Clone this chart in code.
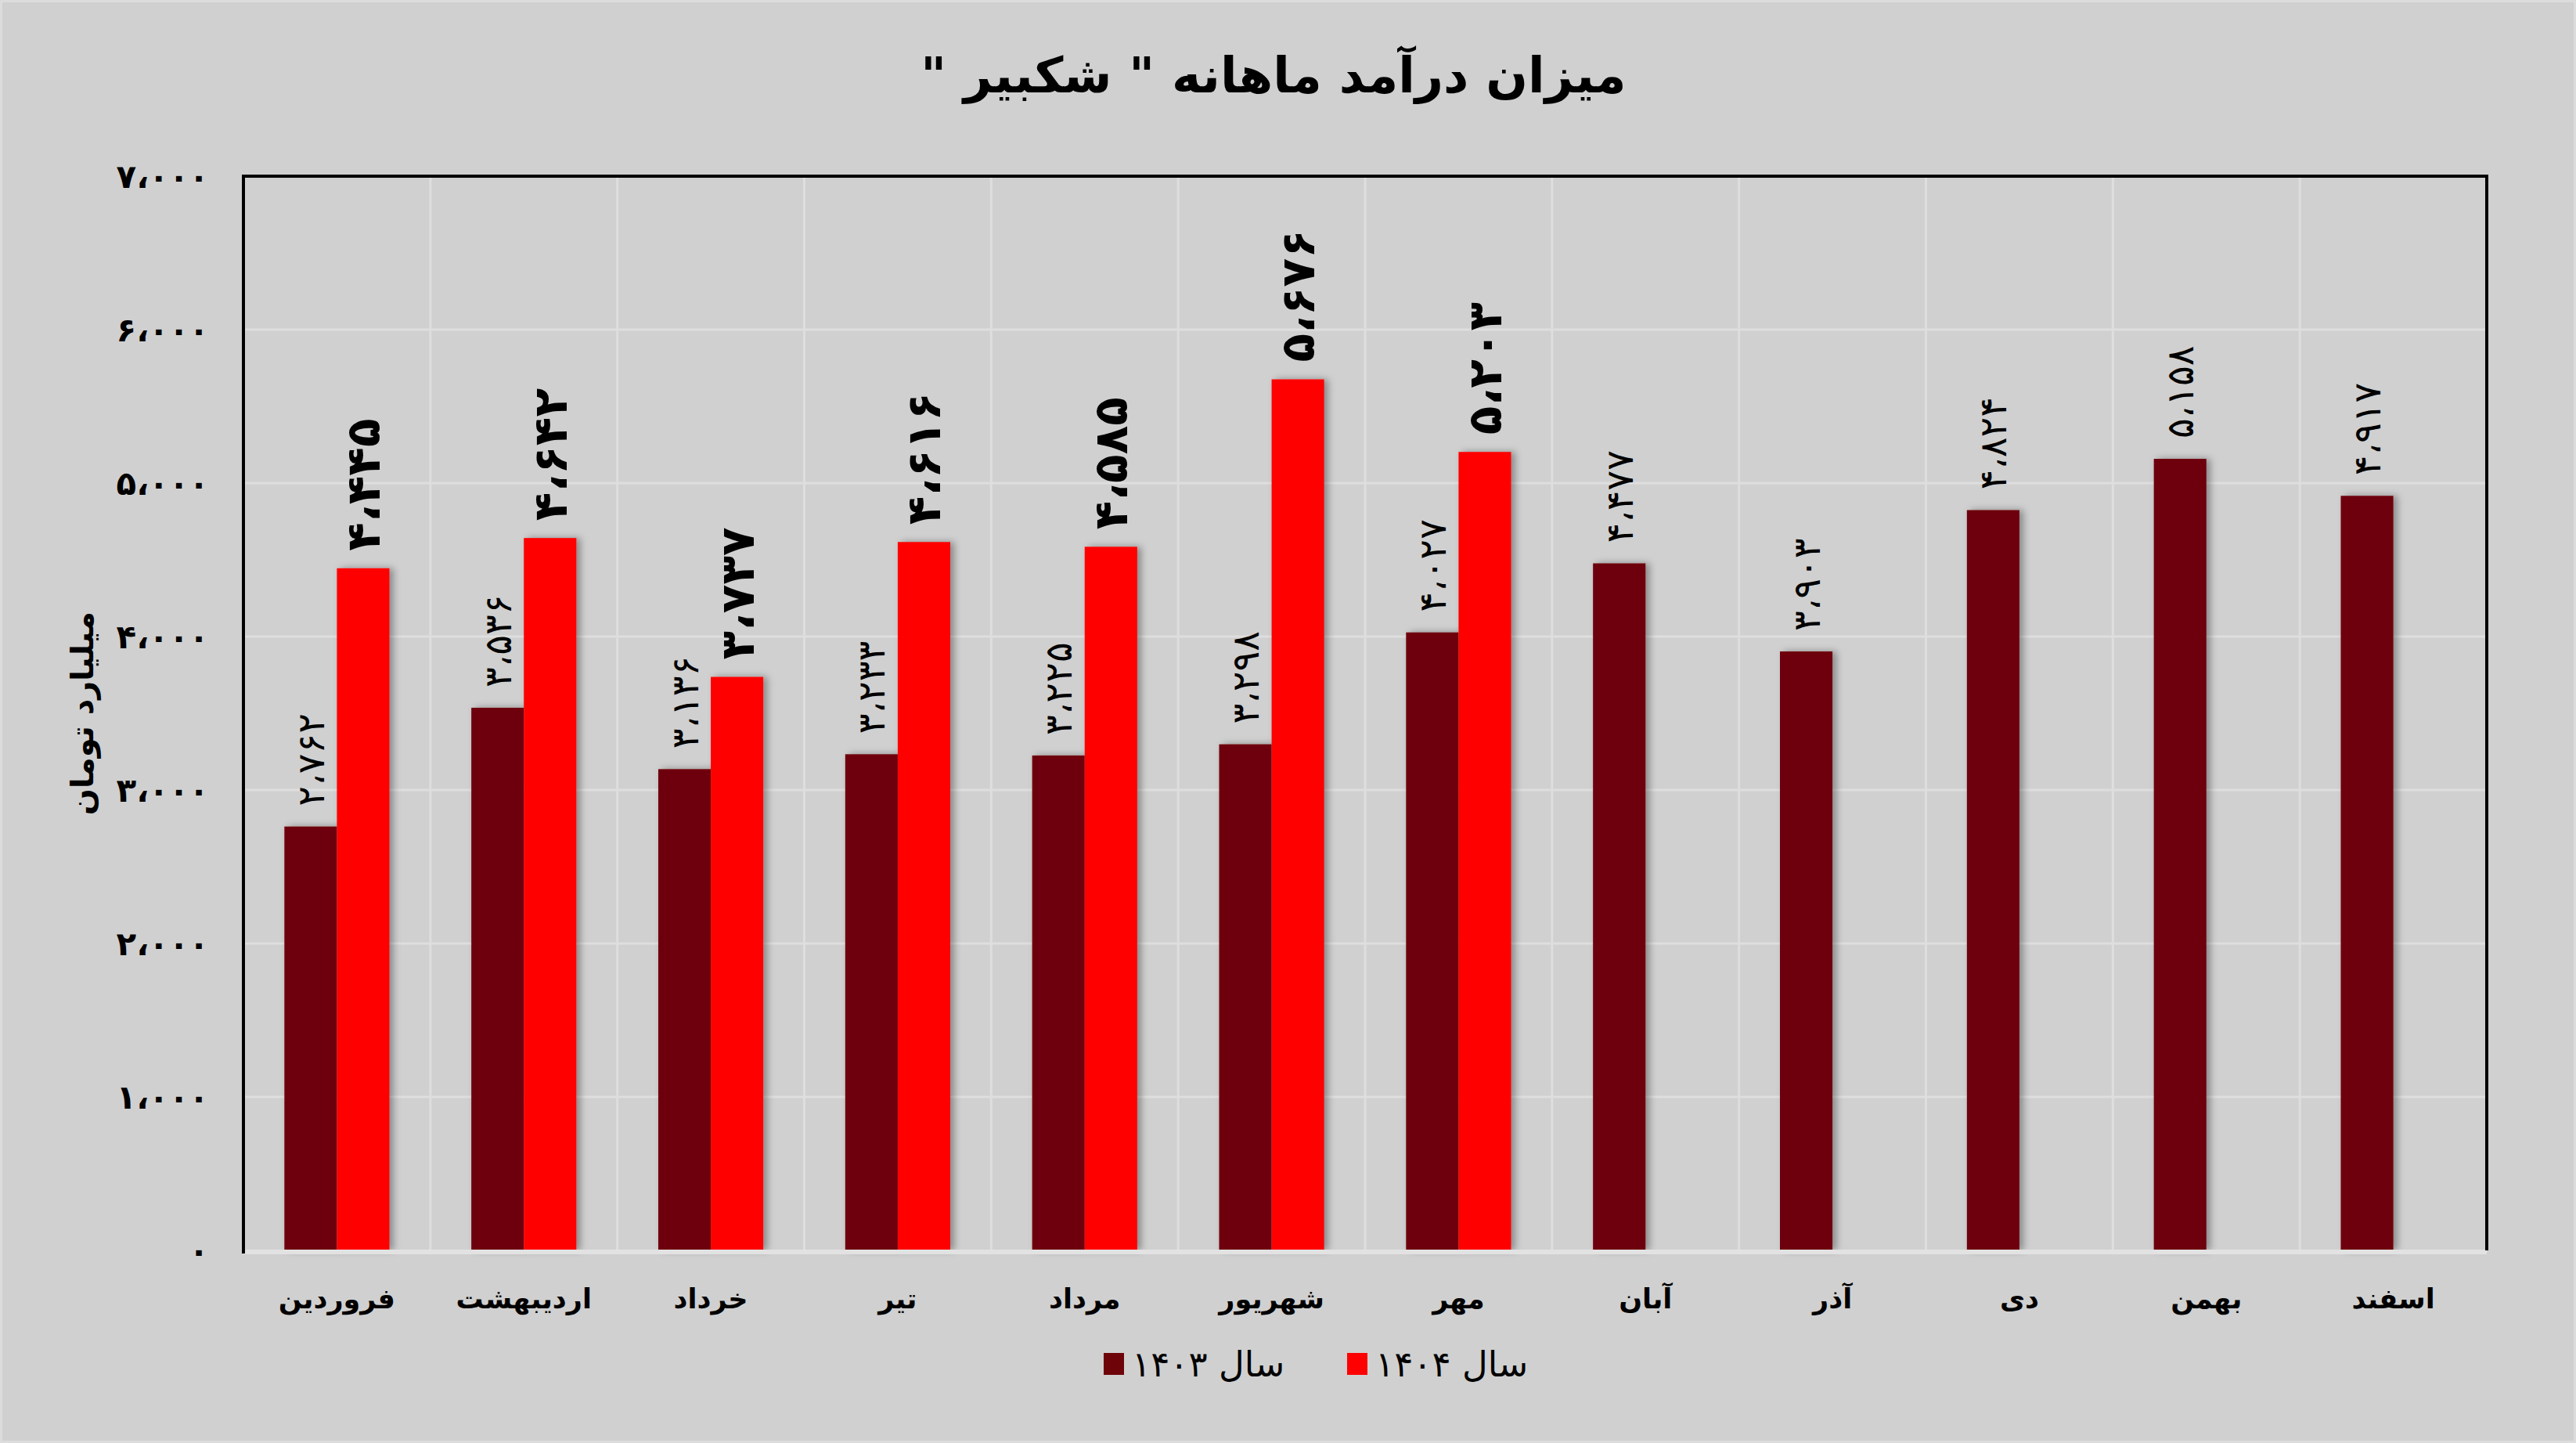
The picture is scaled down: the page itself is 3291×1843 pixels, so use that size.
<!DOCTYPE html>
<html lang="fa">
<head>
<meta charset="utf-8">
<script src="https://cdn.jsdelivr.net/npm/d3@7"></script>
<style>
	body { margin: 0; background: #dcdcdc; overflow: hidden; }
	text { font-family: "DejaVu Sans", sans-serif; }
</style>
</head>
<body>
<script>
// -------------- DATA --------------
const months = ["فروردین", "اردیبهشت", "خرداد", "تیر", "مرداد", "شهریور", "مهر", "آبان", "آذر", "دی", "بهمن", "اسفند"];
const series = ["سال ۱۴۰۳", "سال ۱۴۰۴"];
const values1403 = [2762, 3536, 3136, 3233, 3225, 3298, 4027, 4477, 3903, 4824, 5158, 4917];
const values1404 = [4445, 4642, 3737, 4616, 4585, 5676, 5203, null, null, null, null, null];
const yTicks = [0, 1000, 2000, 3000, 4000, 5000, 6000, 7000];

const title = 'میزان درآمد ماهانه " شکبیر "';
const yLabel = "میلیارد تومان";
const colors = ["#6e040a", "#ff0000"];

// -------------- SETUP --------------
const size = { w: 3291, h: 1843 };
const margin = { l: 311, r: 114, t: 225, b: 246 };

const faDigits = "۰۱۲۳۴۵۶۷۸۹";
const toFa = (v) =>
	d3.format(",")(v)
		.replace(/\d/g, (c) => faDigits[+c])
		.replace(/,/g, "،");

const svg = d3
	.select("body")
	.append("svg")
	.attr("width", size.w)
	.attr("height", size.h);

svg.append("rect")
	.attr("x", 3)
	.attr("y", 3)
	.attr("width", size.w - 6)
	.attr("height", size.h - 6)
	.attr("fill", "#d0d0d0");

const defs = svg.append("defs");
defs.append("filter")
	.attr("id", "shadow")
	.attr("x", "-30%")
	.attr("y", "-5%")
	.attr("width", "160%")
	.attr("height", "110%")
	.append("feDropShadow")
	.attr("dx", 5)
	.attr("dy", 0)
	.attr("stdDeviation", 5)
	.attr("flood-color", "#000")
	.attr("flood-opacity", 0.35);

let xScale = d3
	.scaleBand()
	.domain(months)
	.range([margin.l, size.w - margin.r]);

let xInner = d3
	.scaleBand()
	.domain(series)
	.range([0, xScale.bandwidth()])
	.paddingOuter(0.78)
	.paddingInner(0);

let yScale = d3
	.scaleLinear()
	.domain([0, 7000])
	.range([size.h - margin.b, margin.t]);

// -------------- GRID --------------
svg.append("g")
	.selectAll("line")
	.data(yTicks.slice(1, -1))
	.join("line")
	.attr("x1", margin.l)
	.attr("x2", size.w - margin.r)
	.attr("y1", (d) => yScale(d))
	.attr("y2", (d) => yScale(d))
	.attr("stroke", "#dedede")
	.attr("stroke-width", 3);

svg.append("g")
	.selectAll("line")
	.data(months.slice(1))
	.join("line")
	.attr("x1", (d) => xScale(d))
	.attr("x2", (d) => xScale(d))
	.attr("y1", margin.t)
	.attr("y2", size.h - margin.b)
	.attr("stroke", "#dedede")
	.attr("stroke-width", 3);

// -------------- BARS --------------
const rows = months.map((m, i) => ({
	month: m,
	vals: [
		{ s: series[0], v: values1403[i], i: 0 },
		{ s: series[1], v: values1404[i], i: 1 },
	].filter((d) => d.v != null),
}));

const groups = svg
	.append("g")
	.selectAll("g")
	.data(rows)
	.join("g")
	.attr("transform", (d) => `translate(${xScale(d.month)}, 0)`);

groups
	.selectAll("rect")
	.data((d) => d.vals)
	.join("rect")
	.attr("x", (d) => xInner(d.s))
	.attr("width", xInner.bandwidth())
	.attr("y", (d) => yScale(d.v))
	.attr("height", (d) => yScale(0) - yScale(d.v))
	.attr("fill", (d) => colors[d.i])
	.attr("filter", "url(#shadow)");

groups
	.selectAll("text")
	.data((d) => d.vals)
	.join("text")
	.attr(
		"transform",
		(d) =>
			`translate(${xInner(d.s) + xInner.bandwidth() / 2}, ${yScale(d.v) - (d.i ? 22 : 26)}) rotate(-90)`
	)
	.attr("text-anchor", "start")
	.attr("dominant-baseline", "central")
	.attr("direction", "ltr")
	.attr("font-size", (d) => (d.i ? 60 : 48))
	.attr("font-weight", (d) => (d.i ? "bold" : "normal"))
	.attr("letter-spacing", (d) => (d.i ? 3 : 4))
	.attr("fill", "#000")
	.text((d) => toFa(d.v));

// -------------- AXES --------------
svg.append("line")
	.attr("x1", margin.l)
	.attr("x2", size.w - margin.r)
	.attr("y1", yScale(0) + 2)
	.attr("y2", yScale(0) + 2)
	.attr("stroke", "#e2e2e2")
	.attr("stroke-width", 6);

svg.append("path")
	.attr(
		"d",
		`M${margin.l},${size.h - margin.b + 4}V${margin.t}H${size.w - margin.r}V${size.h - margin.b}`
	)
	.attr("fill", "none")
	.attr("stroke", "#000")
	.attr("stroke-width", 4);

svg.append("g")
	.selectAll("text")
	.data(yTicks)
	.join("text")
	.attr("x", margin.l - 44)
	.attr("y", (d) => yScale(d))
	.attr("text-anchor", "end")
	.attr("dominant-baseline", "central")
	.attr("direction", "ltr")
	.attr("font-size", 42)
	.attr("font-weight", "bold")
	.attr("letter-spacing", 10)
	.text((d) => toFa(d));

svg.append("g")
	.selectAll("text")
	.data(months)
	.join("text")
	.attr("x", (d) => xScale(d) + xScale.bandwidth() / 2)
	.attr("y", size.h - margin.b + 62)
	.attr("text-anchor", "middle")
	.attr("dominant-baseline", "central")
	.attr("font-size", 35)
	.attr("font-weight", "bold")
	.text((d) => d);

svg.append("text")
	.attr("x", -(margin.t + (size.h - margin.t - margin.b) / 2) + 0)
	.attr("y", 105)
	.attr("transform", "rotate(-90)")
	.attr("text-anchor", "middle")
	.attr("dominant-baseline", "central")
	.attr("font-size", 40)
	.attr("font-weight", "bold")
	.text(yLabel);

svg.append("text")
	.attr("x", 1627)
	.attr("y", 96)
	.attr("text-anchor", "middle")
	.attr("dominant-baseline", "central")
	.attr("direction", "rtl")
	.attr("font-size", 63)
	.attr("font-weight", "bold")
	.text(title);

// -------------- LEGEND --------------
const legendX = [1410, 1721];
const legend = svg
	.append("g")
	.selectAll("g")
	.data(series)
	.join("g")
	.attr("transform", (d, i) => `translate(${legendX[i]}, 1742)`);

legend
	.append("rect")
	.attr("x", 0)
	.attr("y", -14)
	.attr("width", 26)
	.attr("height", 28)
	.attr("fill", (d, i) => colors[i]);

legend
	.append("text")
	.attr("x", 36)
	.attr("y", 0)
	.attr("text-anchor", "start")
	.attr("dominant-baseline", "central")
	.attr("font-size", 45)
	.text((d) => d);
</script>
</body>
</html>
